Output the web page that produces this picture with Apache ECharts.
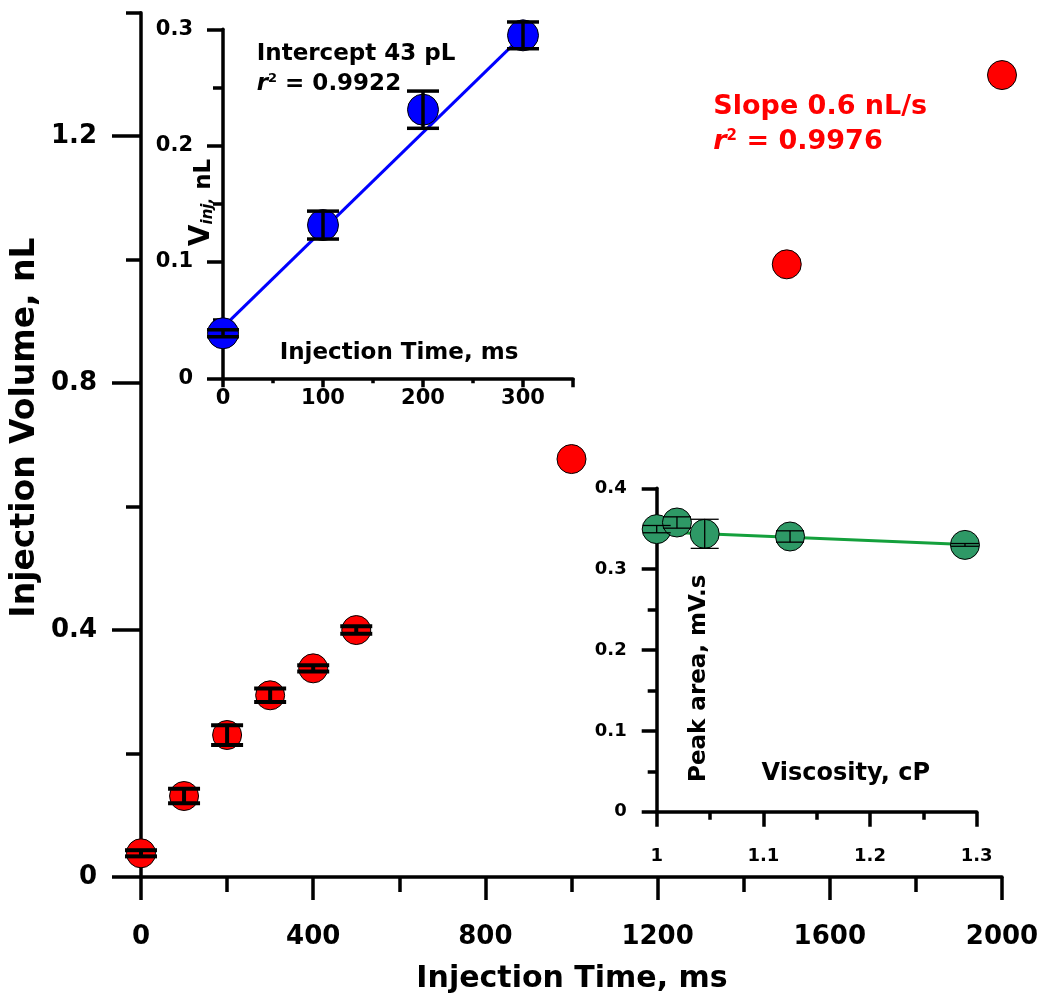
<!DOCTYPE html>
<html><head><meta charset="utf-8">
<script src="https://cdn.jsdelivr.net/npm/echarts@6/dist/echarts.min.js"></script>
<style>html,body{margin:0;padding:0;background:#fff}#c{width:1045px;height:996px}</style>
</head><body><div id="c"></div>
<script>
// ---- main chart data ----
const mainTimes = [0, 100, 200, 300, 400, 500, 1000, 1500, 2000];
const mainVolumes = [0.0384, 0.1312, 0.230, 0.2943, 0.338, 0.400, 0.677, 0.9924, 1.299];
const mainErrors = [0.005, 0.0117, 0.016, 0.011, 0.005, 0.006, 0, 0, 0];
const mainYTickLabels = [0, 0.4, 0.8, 1.2];

// ---- inset 1 (short injection times) ----
const inj1Times = [0, 100, 200, 300];
const inj1Volumes = [0.0387, 0.1317, 0.2309, 0.2948];
const inj1Errors = [0.003, 0.012, 0.016, 0.0115];
const inj1FitTimes = [0, 300];
const inj1FitVolumes = [0.044, 0.295];

// ---- inset 2 (viscosity) ----
const viscosity = [1.0, 1.019, 1.045, 1.125, 1.289];
const peakArea = [0.3495, 0.3577, 0.3437, 0.3404, 0.330];
const peakErrors = [0.0045, 0.007, 0.018, 0.007, 0.0017];
const viscFit = [1.0, 1.289];
const peakFit = [0.3462, 0.3305];

const FF = '"DejaVu Sans", sans-serif';
const zip = (a, b, c) => a.map((v, i) => c ? [v, b[i], c[i]] : [v, b[i]]);
const plain = (v) => String(Math.round(v * 1000) / 1000);

function errBars(capW, lw) {
  return function (params, api) {
    const x = api.value(0), y = api.value(1), e = api.value(2);
    if (!e) return { type: 'group', children: [] };
    const t = api.coord([x, y + e]), b = api.coord([x, y - e]);
    const h = capW / 2, st = { stroke: '#000', lineWidth: lw };
    return { type: 'group', children: [
      { type: 'line', shape: { x1: t[0], y1: t[1], x2: b[0], y2: b[1] }, style: st },
      { type: 'line', shape: { x1: t[0] - h, y1: t[1], x2: t[0] + h, y2: t[1] }, style: st },
      { type: 'line', shape: { x1: b[0] - h, y1: b[1], x2: b[0] + h, y2: b[1] }, style: st }
    ]};
  };
}

const LW = 3.5;
function axisBase(o) {
  return Object.assign({
    type: 'value',
    axisLine: { show: true, onZero: false, lineStyle: { color: '#000', width: LW } },
    axisTick: { show: true, lineStyle: { color: '#000', width: LW } },
    minorTick: { show: true, splitNumber: 2, lineStyle: { color: '#000', width: LW } },
    splitLine: { show: false }, minorSplitLine: { show: false },
    axisLabel: { color: '#000', fontWeight: 'bold', fontFamily: FF, formatter: plain }
  }, o);
}
function merge(base, o) {
  for (const k in o) {
    if (o[k] && typeof o[k] === 'object' && !Array.isArray(o[k]) && base[k] && typeof base[k] === 'object') merge(base[k], o[k]);
    else base[k] = o[k];
  }
  return base;
}
function ax(o) { return merge(axisBase({}), o); }

const chart = echarts.init(document.getElementById('c'));
const T = (o) => ({ type: 'text', silent: true, z: 100, style: Object.assign({ fill: '#000', fontFamily: FF, fontWeight: 'bold' }, o.style), x: o.x, y: o.y, rotation: o.rotation || 0 });

chart.setOption({
  animation: false,
  backgroundColor: '#fff',
  grid: [
    { left: 141, top: 12.7, width: 861, height: 864.3 },
    { left: 223, top: 29.3, width: 350, height: 349 },
    { left: 656.7, top: 488.3, width: 320, height: 323.4 }
  ],
  xAxis: [
    ax({ gridIndex: 0, position: 'bottom', min: 0, max: 2000, interval: 400,
      axisTick: { length: 23 }, minorTick: { length: 15 },
      axisLabel: { margin: 47, fontSize: 26 } }),
    ax({ gridIndex: 1, position: 'bottom', min: 0, max: 350, interval: 100,
      axisTick: { length: 9 }, minorTick: { length: 5 },
      axisLabel: { margin: 10, fontSize: 21, showMaxLabel: false } }),
    ax({ gridIndex: 2, position: 'bottom', min: 1, max: 1.3, interval: 0.1,
      axisTick: { length: 15 }, minorTick: { length: 8 },
      axisLabel: { margin: 36, fontSize: 18 } })
  ],
  yAxis: [
    ax({ gridIndex: 0, position: 'left', min: 0, max: 1.4, interval: 0.2,
      axisTick: { length: 15 }, minorTick: { show: false },
      axisLabel: { margin: 44, fontSize: 26, customValues: mainYTickLabels } }),
    ax({ gridIndex: 0, position: 'left', min: 0, max: 1.4, interval: 0.2,
      axisLine: { show: false }, minorTick: { show: false },
      axisTick: { length: 29, customValues: mainYTickLabels },
      axisLabel: { show: false } }),
    ax({ gridIndex: 1, position: 'left', min: 0, max: 0.3, interval: 0.1,
      axisTick: { length: 16 }, minorTick: { length: 10 },
      axisLabel: { margin: 30, fontSize: 21 } }),
    ax({ gridIndex: 2, position: 'left', min: 0, max: 0.4, interval: 0.1,
      axisTick: { length: 15 }, minorTick: { length: 9 },
      axisLabel: { margin: 30, fontSize: 18 } })
  ],
  series: [
    { type: 'scatter', xAxisIndex: 0, yAxisIndex: 0, z: 2, symbolSize: 29,
      itemStyle: { color: '#ff0000', borderColor: '#000', borderWidth: 1, opacity: 1 },
      data: zip(mainTimes, mainVolumes) },
    { type: 'custom', xAxisIndex: 0, yAxisIndex: 0, z: 3, renderItem: errBars(32, 4),
      encode: { x: 0, y: 1 }, data: zip(mainTimes, mainVolumes, mainErrors) },

    { type: 'line', xAxisIndex: 1, yAxisIndex: 2, z: 2, showSymbol: false, symbol: 'none',
      lineStyle: { color: '#0000ff', width: 3 }, data: zip(inj1FitTimes, inj1FitVolumes) },
    { type: 'scatter', xAxisIndex: 1, yAxisIndex: 2, z: 3, symbolSize: 31,
      itemStyle: { color: '#0000ff', borderColor: '#000', borderWidth: 1, opacity: 1 },
      data: zip(inj1Times, inj1Volumes) },
    { type: 'custom', xAxisIndex: 1, yAxisIndex: 2, z: 4, renderItem: errBars(32, 3.5),
      encode: { x: 0, y: 1 }, data: zip(inj1Times, inj1Volumes, inj1Errors) },

    { type: 'line', xAxisIndex: 2, yAxisIndex: 3, z: 2, showSymbol: false, symbol: 'none',
      lineStyle: { color: '#14a03c', width: 3 }, data: zip(viscFit, peakFit) },
    { type: 'scatter', xAxisIndex: 2, yAxisIndex: 3, z: 3, symbolSize: 29,
      itemStyle: { color: '#2e9966', borderColor: '#000', borderWidth: 1, opacity: 1 },
      data: zip(viscosity, peakArea) },
    { type: 'custom', xAxisIndex: 2, yAxisIndex: 3, z: 4, renderItem: errBars(28, 1.3),
      encode: { x: 0, y: 1 }, data: zip(viscosity, peakArea, peakErrors) }
  ],
  graphic: [
    T({ x: 572, y: 979, style: { text: 'Injection Time, ms', fontSize: 30, textAlign: 'center', textVerticalAlign: 'middle' } }),
    T({ x: 25.5, y: 427.5, rotation: Math.PI / 2, style: { text: 'Injection Volume, nL', fontSize: 33, textAlign: 'center', textVerticalAlign: 'middle' } }),
    T({ x: 256.7, y: 53.7, style: { text: 'Intercept 43 pL', fontSize: 23, textAlign: 'left', textVerticalAlign: 'middle' } }),
    T({ x: 256.7, y: 83.7, style: { text: '{r|r}{s|2}{t| = 0.9922}', textAlign: 'left', textVerticalAlign: 'middle',
      rich: { r: { fontSize: 23, fontStyle: 'italic', fontWeight: 'bold', fontFamily: FF, fill: '#000' },
              s: { fontSize: 13, fontWeight: 'bold', fontFamily: FF, verticalAlign: 'top', fill: '#000' },
              t: { fontSize: 23, fontWeight: 'bold', fontFamily: FF, fill: '#000' } } } }),
    T({ x: 713.3, y: 107.3, style: { text: 'Slope 0.6 nL/s', fontSize: 27, fill: '#ff0000', textAlign: 'left', textVerticalAlign: 'middle' } }),
    T({ x: 713.3, y: 142.3, style: { text: '{r|r}{s|2}{t| = 0.9976}', textAlign: 'left', textVerticalAlign: 'middle',
      rich: { r: { fontSize: 27, fontStyle: 'italic', fontWeight: 'bold', fontFamily: FF, fill: '#ff0000' },
              s: { fontSize: 15, fontWeight: 'bold', fontFamily: FF, verticalAlign: 'top', fill: '#ff0000' },
              t: { fontSize: 27, fontWeight: 'bold', fontFamily: FF, fill: '#ff0000' } } } }),
    T({ x: 399, y: 353.5, style: { text: 'Injection Time, ms', fontSize: 23, textAlign: 'center', textVerticalAlign: 'middle' } }),
    T({ x: 201, y: 202.5, rotation: Math.PI / 2, style: { text: '{v|V}{i|inj,}{n| nL}', textAlign: 'center', textVerticalAlign: 'middle',
      rich: { v: { fontSize: 28, lineHeight: 30, fontWeight: 'bold', fontFamily: FF, verticalAlign: 'bottom', fill: '#000' },
              i: { fontSize: 15, lineHeight: 13, fontStyle: 'italic', fontWeight: 'bold', fontFamily: FF, verticalAlign: 'bottom', fill: '#000' },
              n: { fontSize: 23, lineHeight: 25, fontWeight: 'bold', fontFamily: FF, verticalAlign: 'bottom', fill: '#000' } } } }),
    T({ x: 699, y: 678.3, rotation: Math.PI / 2, style: { text: 'Peak area, mV.s', fontSize: 23, textAlign: 'center', textVerticalAlign: 'middle' } }),
    T({ x: 845.8, y: 773.3, style: { text: 'Viscosity, cP', fontSize: 24, textAlign: 'center', textVerticalAlign: 'middle' } })
  ]
});
</script>
</body></html>
